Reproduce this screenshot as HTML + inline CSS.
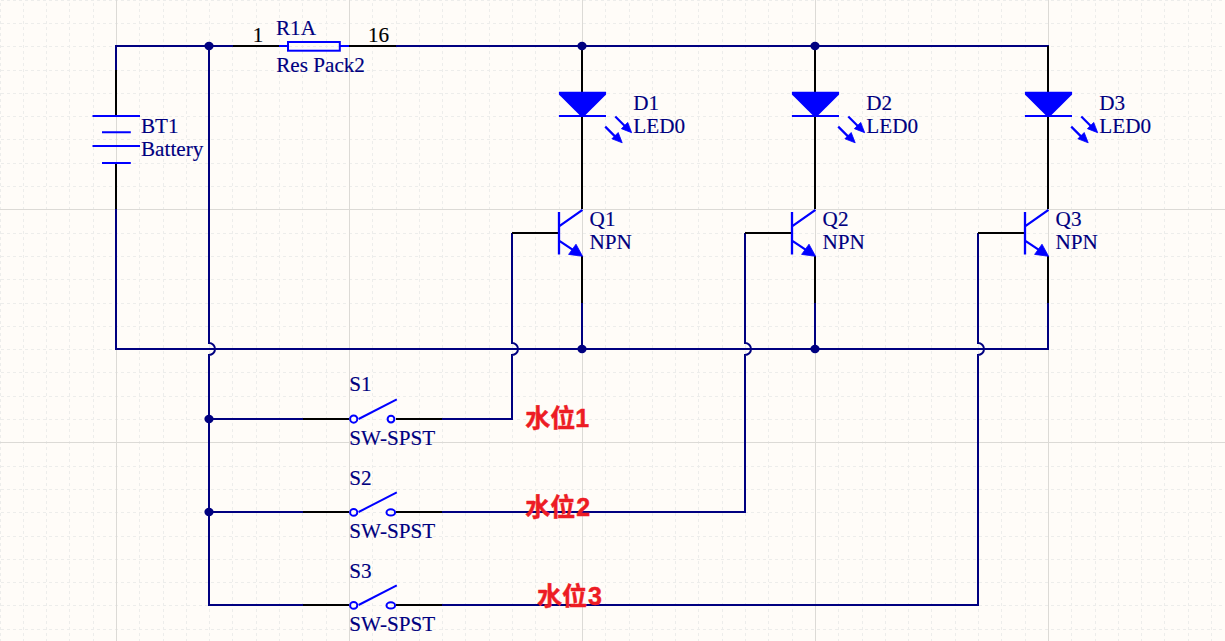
<!DOCTYPE html>
<html lang="zh"><head><meta charset="utf-8"><title>水位 LED 电路</title>
<style>html,body{margin:0;padding:0;background:#fffcf8;overflow:hidden}svg{display:block}</style>
</head><body>
<svg width="1225" height="641" viewBox="0 0 1225 641">
<rect width="1225" height="641" fill="#fffcf8"/>
<g stroke="#ededeb" stroke-width="1" stroke-dasharray="3 3" shape-rendering="crispEdges">
<line x1="0.5" y1="-3" x2="0.5" y2="641"/>
<line x1="23.5" y1="-3" x2="23.5" y2="641"/>
<line x1="46.5" y1="-3" x2="46.5" y2="641"/>
<line x1="69.5" y1="-3" x2="69.5" y2="641"/>
<line x1="93.5" y1="-3" x2="93.5" y2="641"/>
<line x1="139.5" y1="-3" x2="139.5" y2="641"/>
<line x1="163.5" y1="-3" x2="163.5" y2="641"/>
<line x1="186.5" y1="-3" x2="186.5" y2="641"/>
<line x1="209.5" y1="-3" x2="209.5" y2="641"/>
<line x1="232.5" y1="-3" x2="232.5" y2="641"/>
<line x1="256.5" y1="-3" x2="256.5" y2="641"/>
<line x1="279.5" y1="-3" x2="279.5" y2="641"/>
<line x1="302.5" y1="-3" x2="302.5" y2="641"/>
<line x1="326.5" y1="-3" x2="326.5" y2="641"/>
<line x1="372.5" y1="-3" x2="372.5" y2="641"/>
<line x1="396.5" y1="-3" x2="396.5" y2="641"/>
<line x1="419.5" y1="-3" x2="419.5" y2="641"/>
<line x1="442.5" y1="-3" x2="442.5" y2="641"/>
<line x1="465.5" y1="-3" x2="465.5" y2="641"/>
<line x1="489.5" y1="-3" x2="489.5" y2="641"/>
<line x1="512.5" y1="-3" x2="512.5" y2="641"/>
<line x1="535.5" y1="-3" x2="535.5" y2="641"/>
<line x1="559.5" y1="-3" x2="559.5" y2="641"/>
<line x1="605.5" y1="-3" x2="605.5" y2="641"/>
<line x1="629.5" y1="-3" x2="629.5" y2="641"/>
<line x1="652.5" y1="-3" x2="652.5" y2="641"/>
<line x1="675.5" y1="-3" x2="675.5" y2="641"/>
<line x1="698.5" y1="-3" x2="698.5" y2="641"/>
<line x1="722.5" y1="-3" x2="722.5" y2="641"/>
<line x1="745.5" y1="-3" x2="745.5" y2="641"/>
<line x1="768.5" y1="-3" x2="768.5" y2="641"/>
<line x1="792.5" y1="-3" x2="792.5" y2="641"/>
<line x1="838.5" y1="-3" x2="838.5" y2="641"/>
<line x1="862.5" y1="-3" x2="862.5" y2="641"/>
<line x1="885.5" y1="-3" x2="885.5" y2="641"/>
<line x1="908.5" y1="-3" x2="908.5" y2="641"/>
<line x1="931.5" y1="-3" x2="931.5" y2="641"/>
<line x1="955.5" y1="-3" x2="955.5" y2="641"/>
<line x1="978.5" y1="-3" x2="978.5" y2="641"/>
<line x1="1001.5" y1="-3" x2="1001.5" y2="641"/>
<line x1="1025.5" y1="-3" x2="1025.5" y2="641"/>
<line x1="1071.5" y1="-3" x2="1071.5" y2="641"/>
<line x1="1095.5" y1="-3" x2="1095.5" y2="641"/>
<line x1="1118.5" y1="-3" x2="1118.5" y2="641"/>
<line x1="1141.5" y1="-3" x2="1141.5" y2="641"/>
<line x1="1164.5" y1="-3" x2="1164.5" y2="641"/>
<line x1="1188.5" y1="-3" x2="1188.5" y2="641"/>
<line x1="1211.5" y1="-3" x2="1211.5" y2="641"/>
<line x1="1" y1="0.5" x2="1225" y2="0.5"/>
<line x1="1" y1="23.5" x2="1225" y2="23.5"/>
<line x1="1" y1="46.5" x2="1225" y2="46.5"/>
<line x1="1" y1="70.5" x2="1225" y2="70.5"/>
<line x1="1" y1="93.5" x2="1225" y2="93.5"/>
<line x1="1" y1="116.5" x2="1225" y2="116.5"/>
<line x1="1" y1="139.5" x2="1225" y2="139.5"/>
<line x1="1" y1="163.5" x2="1225" y2="163.5"/>
<line x1="1" y1="186.5" x2="1225" y2="186.5"/>
<line x1="1" y1="233.5" x2="1225" y2="233.5"/>
<line x1="1" y1="256.5" x2="1225" y2="256.5"/>
<line x1="1" y1="279.5" x2="1225" y2="279.5"/>
<line x1="1" y1="303.5" x2="1225" y2="303.5"/>
<line x1="1" y1="326.5" x2="1225" y2="326.5"/>
<line x1="1" y1="349.5" x2="1225" y2="349.5"/>
<line x1="1" y1="372.5" x2="1225" y2="372.5"/>
<line x1="1" y1="396.5" x2="1225" y2="396.5"/>
<line x1="1" y1="419.5" x2="1225" y2="419.5"/>
<line x1="1" y1="466.5" x2="1225" y2="466.5"/>
<line x1="1" y1="489.5" x2="1225" y2="489.5"/>
<line x1="1" y1="512.5" x2="1225" y2="512.5"/>
<line x1="1" y1="536.5" x2="1225" y2="536.5"/>
<line x1="1" y1="559.5" x2="1225" y2="559.5"/>
<line x1="1" y1="582.5" x2="1225" y2="582.5"/>
<line x1="1" y1="605.5" x2="1225" y2="605.5"/>
<line x1="1" y1="629.5" x2="1225" y2="629.5"/>
</g>
<g stroke="#dcdad6" stroke-width="1" shape-rendering="crispEdges">
<line x1="116.5" y1="0" x2="116.5" y2="641"/>
<line x1="349.5" y1="0" x2="349.5" y2="641"/>
<line x1="582.5" y1="0" x2="582.5" y2="641"/>
<line x1="815.5" y1="0" x2="815.5" y2="641"/>
<line x1="1048.5" y1="0" x2="1048.5" y2="641"/>
<line x1="0" y1="209.5" x2="1225" y2="209.5"/>
<line x1="0" y1="442.5" x2="1225" y2="442.5"/>
</g>
<path d="M116 70 L116 46 L233 46" fill="none" stroke="#000080" stroke-width="2" stroke-linejoin="miter" stroke-linecap="square"/>
<path d="M396 46 L1048 46" fill="none" stroke="#000080" stroke-width="2" stroke-linejoin="miter" stroke-linecap="square"/>
<path d="M209 46 L209 343 A6 6 0 0 1 209 355 L209 605 L303 605" fill="none" stroke="#000080" stroke-width="2"/>
<path d="M116 209 L116 349 L1048 349 L1048 303" fill="none" stroke="#000080" stroke-width="2" stroke-linejoin="miter" stroke-linecap="square"/>
<path d="M582 303 L582 349" fill="none" stroke="#000080" stroke-width="2" stroke-linejoin="miter" stroke-linecap="square"/>
<path d="M815 303 L815 349" fill="none" stroke="#000080" stroke-width="2" stroke-linejoin="miter" stroke-linecap="square"/>
<path d="M209 419 L303 419" fill="none" stroke="#000080" stroke-width="2" stroke-linejoin="miter" stroke-linecap="square"/>
<path d="M209 512 L303 512" fill="none" stroke="#000080" stroke-width="2" stroke-linejoin="miter" stroke-linecap="square"/>
<path d="M512 233 L512 343 A6 6 0 0 1 512 355 L512 419 L442 419" fill="none" stroke="#000080" stroke-width="2" stroke-linejoin="miter"/>
<path d="M745 233 L745 343 A6 6 0 0 1 745 355 L745 512 L442 512" fill="none" stroke="#000080" stroke-width="2" stroke-linejoin="miter"/>
<path d="M978 233 L978 343 A6 6 0 0 1 978 355 L978 605 L442 605" fill="none" stroke="#000080" stroke-width="2" stroke-linejoin="miter"/>
<line x1="116" y1="70" x2="116" y2="116" stroke="#000000" stroke-width="2"/>
<line x1="116" y1="163" x2="116" y2="209" stroke="#000000" stroke-width="2"/>
<line x1="233" y1="46" x2="279" y2="46" stroke="#000000" stroke-width="2"/>
<line x1="349" y1="46" x2="396" y2="46" stroke="#000000" stroke-width="2"/>
<line x1="582" y1="46" x2="582" y2="93" stroke="#000000" stroke-width="2"/>
<line x1="582" y1="116" x2="582" y2="209" stroke="#000000" stroke-width="2"/>
<line x1="582" y1="256" x2="582" y2="303" stroke="#000000" stroke-width="2"/>
<line x1="512" y1="233" x2="559" y2="233" stroke="#000000" stroke-width="2"/>
<line x1="815" y1="46" x2="815" y2="93" stroke="#000000" stroke-width="2"/>
<line x1="815" y1="116" x2="815" y2="209" stroke="#000000" stroke-width="2"/>
<line x1="815" y1="256" x2="815" y2="303" stroke="#000000" stroke-width="2"/>
<line x1="745" y1="233" x2="792" y2="233" stroke="#000000" stroke-width="2"/>
<line x1="1048" y1="46" x2="1048" y2="93" stroke="#000000" stroke-width="2"/>
<line x1="1048" y1="116" x2="1048" y2="209" stroke="#000000" stroke-width="2"/>
<line x1="1048" y1="256" x2="1048" y2="303" stroke="#000000" stroke-width="2"/>
<line x1="978" y1="233" x2="1025" y2="233" stroke="#000000" stroke-width="2"/>
<line x1="303" y1="419" x2="349" y2="419" stroke="#000000" stroke-width="2"/>
<line x1="396" y1="419" x2="442" y2="419" stroke="#000000" stroke-width="2"/>
<line x1="303" y1="512" x2="349" y2="512" stroke="#000000" stroke-width="2"/>
<line x1="396" y1="512" x2="442" y2="512" stroke="#000000" stroke-width="2"/>
<line x1="303" y1="605" x2="349" y2="605" stroke="#000000" stroke-width="2"/>
<line x1="396" y1="605" x2="442" y2="605" stroke="#000000" stroke-width="2"/>
<g stroke="#0000ff" stroke-width="1.9" fill="none">
<path d="M92.5 116H140 M102 132.3H130.8 M92.5 146H140 M102 163H130.8"/>
<path d="M279 46H287 M340 46H349"/>
<rect x="288" y="42" width="51.8" height="8.7" stroke-width="2"/>
<path d="M558.9 91.8H606.1V94.5L584.5 116.1H580.5L558.9 94.5Z" fill="#0000ff" stroke="none"/>
<path d="M558.9 116.1H606" stroke-width="2"/>
<path d="M615.3 116.5l10 10" stroke-width="2.2"/>
<path d="M631.6999999999999 132.7l-10.3 -4 l6.3 -6.3z" fill="#0000ff" stroke-width="0.8"/>
<path d="M605.2 126.6l10 10" stroke-width="2.2"/>
<path d="M622.2 142.79999999999998l-10.3 -4 l6.3 -6.3z" fill="#0000ff" stroke-width="0.8"/>
<path d="M791.9 91.8H839.1V94.5L817.5 116.1H813.5L791.9 94.5Z" fill="#0000ff" stroke="none"/>
<path d="M791.9 116.1H839" stroke-width="2"/>
<path d="M848.3 116.5l10 10" stroke-width="2.2"/>
<path d="M864.6999999999999 132.7l-10.3 -4 l6.3 -6.3z" fill="#0000ff" stroke-width="0.8"/>
<path d="M838.2 126.6l10 10" stroke-width="2.2"/>
<path d="M855.2 142.79999999999998l-10.3 -4 l6.3 -6.3z" fill="#0000ff" stroke-width="0.8"/>
<path d="M1024.9 91.8H1072.1V94.5L1050.5 116.1H1046.5L1024.9 94.5Z" fill="#0000ff" stroke="none"/>
<path d="M1024.9 116.1H1072" stroke-width="2"/>
<path d="M1081.3 116.5l10 10" stroke-width="2.2"/>
<path d="M1097.7 132.7l-10.3 -4 l6.3 -6.3z" fill="#0000ff" stroke-width="0.8"/>
<path d="M1071.2 126.6l10 10" stroke-width="2.2"/>
<path d="M1088.2 142.79999999999998l-10.3 -4 l6.3 -6.3z" fill="#0000ff" stroke-width="0.8"/>
<path d="M559 212V254.5 M559 226.4L582.5 209.9 M559 240.6L574 250.6" stroke-width="2.3"/>
<path d="M582.6 256.3l-14 -1.9 l7.4 -10.2z" fill="#0000ff" stroke-width="0.8"/>
<path d="M792 212V254.5 M792 226.4L815.5 209.9 M792 240.6L807 250.6" stroke-width="2.3"/>
<path d="M815.6 256.3l-14 -1.9 l7.4 -10.2z" fill="#0000ff" stroke-width="0.8"/>
<path d="M1025 212V254.5 M1025 226.4L1048.5 209.9 M1025 240.6L1040 250.6" stroke-width="2.3"/>
<path d="M1048.6 256.3l-14 -1.9 l7.4 -10.2z" fill="#0000ff" stroke-width="0.8"/>
<ellipse cx="353.7" cy="419.1" rx="3.6" ry="3.6" stroke-width="2"/>
<ellipse cx="391.0" cy="419.1" rx="3.4" ry="3.4" stroke-width="2"/>
<path d="M358.6 419L396.8 399.4" stroke-width="2"/>
<ellipse cx="353.7" cy="512.4" rx="3.6" ry="3.3" stroke-width="2"/>
<ellipse cx="390.8" cy="512.4" rx="4.3" ry="3.1" stroke-width="2"/>
<path d="M358.6 512L396.8 492.4" stroke-width="2"/>
<ellipse cx="353.7" cy="605.4" rx="3.6" ry="3.3" stroke-width="2"/>
<ellipse cx="390.8" cy="605.4" rx="4.3" ry="3.1" stroke-width="2"/>
<path d="M358.6 605L396.8 585.4" stroke-width="2"/>
</g>
<ellipse cx="209" cy="46" rx="4.6" ry="4.2" fill="#000080"/>
<ellipse cx="582" cy="46" rx="4.6" ry="4.2" fill="#000080"/>
<ellipse cx="815" cy="46" rx="4.6" ry="4.2" fill="#000080"/>
<ellipse cx="582" cy="349" rx="4.6" ry="4.2" fill="#000080"/>
<ellipse cx="815" cy="349" rx="4.6" ry="4.2" fill="#000080"/>
<ellipse cx="209" cy="419" rx="4.6" ry="4.2" fill="#000080"/>
<ellipse cx="209" cy="512" rx="4.6" ry="4.2" fill="#000080"/>
<g font-family="&quot;Liberation Serif&quot;, serif">
<text transform="translate(252.7 41.5) scale(1.033 1)" fill="#000" stroke="#000" stroke-width="0.15" font-size="20.5" >1</text>
<text transform="translate(367.9 41.5) scale(1.033 1)" fill="#000" stroke="#000" stroke-width="0.15" font-size="20.5" >16</text>
<text transform="translate(276.0 34.8) scale(1.033 1)" fill="#000080" stroke="#000080" stroke-width="0.15" font-size="20.5" >R1A</text>
<text transform="translate(276.2 71.7) scale(1.033 1)" fill="#000080" stroke="#000080" stroke-width="0.15" font-size="20.5" >Res Pack2</text>
<text transform="translate(141.0 132.6) scale(1.033 1)" fill="#000080" stroke="#000080" stroke-width="0.15" font-size="20.5" >BT1</text>
<text transform="translate(141.0 155.5) scale(1.033 1)" fill="#000080" stroke="#000080" stroke-width="0.15" font-size="20.5" >Battery</text>
<text transform="translate(633.3 109.8) scale(1.033 1)" fill="#000080" stroke="#000080" stroke-width="0.15" font-size="20.5" >D1</text>
<text transform="translate(633.3 132.9) scale(1.033 1)" fill="#000080" stroke="#000080" stroke-width="0.15" font-size="20.5" >LED0</text>
<text transform="translate(589.6 226.1) scale(1.033 1)" fill="#000080" stroke="#000080" stroke-width="0.15" font-size="20.5" >Q1</text>
<text transform="translate(589.4 249.1) scale(1.033 1)" fill="#000080" stroke="#000080" stroke-width="0.15" font-size="20.5" >NPN</text>
<text transform="translate(866.3 109.8) scale(1.033 1)" fill="#000080" stroke="#000080" stroke-width="0.15" font-size="20.5" >D2</text>
<text transform="translate(866.3 132.9) scale(1.033 1)" fill="#000080" stroke="#000080" stroke-width="0.15" font-size="20.5" >LED0</text>
<text transform="translate(822.6 226.1) scale(1.033 1)" fill="#000080" stroke="#000080" stroke-width="0.15" font-size="20.5" >Q2</text>
<text transform="translate(822.4 249.1) scale(1.033 1)" fill="#000080" stroke="#000080" stroke-width="0.15" font-size="20.5" >NPN</text>
<text transform="translate(1099.3 109.8) scale(1.033 1)" fill="#000080" stroke="#000080" stroke-width="0.15" font-size="20.5" >D3</text>
<text transform="translate(1099.3 132.9) scale(1.033 1)" fill="#000080" stroke="#000080" stroke-width="0.15" font-size="20.5" >LED0</text>
<text transform="translate(1055.6 226.1) scale(1.033 1)" fill="#000080" stroke="#000080" stroke-width="0.15" font-size="20.5" >Q3</text>
<text transform="translate(1055.4 249.1) scale(1.033 1)" fill="#000080" stroke="#000080" stroke-width="0.15" font-size="20.5" >NPN</text>
<text transform="translate(349.3 391.2) scale(1.033 1)" fill="#000080" stroke="#000080" stroke-width="0.15" font-size="20.5" >S1</text>
<text transform="translate(349.3 444.9) scale(1.033 1)" fill="#000080" stroke="#000080" stroke-width="0.15" font-size="20.5" >SW-SPST</text>
<text transform="translate(349.3 484.7) scale(1.033 1)" fill="#000080" stroke="#000080" stroke-width="0.15" font-size="20.5" >S2</text>
<text transform="translate(349.3 538.1) scale(1.033 1)" fill="#000080" stroke="#000080" stroke-width="0.15" font-size="20.5" >SW-SPST</text>
<text transform="translate(349.3 578.2) scale(1.033 1)" fill="#000080" stroke="#000080" stroke-width="0.15" font-size="20.5" >S3</text>
<text transform="translate(349.3 631.4) scale(1.033 1)" fill="#000080" stroke="#000080" stroke-width="0.15" font-size="20.5" >SW-SPST</text>
</g>
<g font-family="&quot;Liberation Sans&quot;, &quot;Noto Sans CJK SC&quot;, sans-serif" font-weight="bold" fill="#ed1c24" stroke="#ed1c24" stroke-width="0.45" stroke-linejoin="round" font-size="25">
<text x="525.3" y="426.5">水位1</text>
<text x="525.3" y="515.6">水位<tspan dx="1">2</tspan></text>
<text x="537.0" y="605.1">水位<tspan dx="1">3</tspan></text>
</g>
</svg>
</body></html>
